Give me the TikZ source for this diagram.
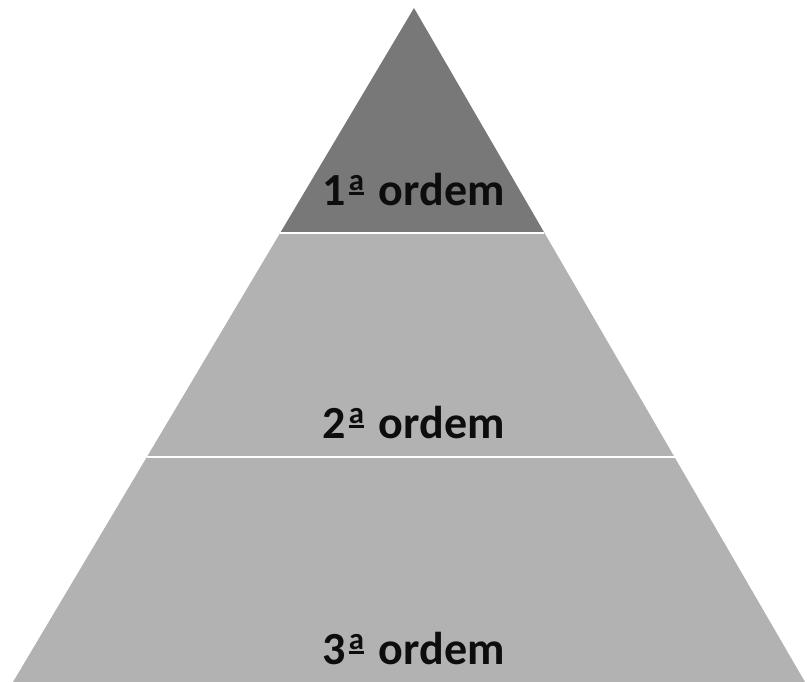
\documentclass[tikz,border=0pt]{standalone}
\usepackage{fontspec}
\setmainfont{Carlito}
\usepackage{tikz}
\usetikzlibrary{calc}

% underlined feminine ordinal, as in the reference font
\newcommand{\ordA}{\kern0.07em\raisebox{7.5pt}{\setbox0\hbox{\fontsize{23}{23}\selectfont\bfseries a}\vbox{\copy0\kern1.4pt\hrule height 2.1pt width \wd0}}\kern0.1em}

\begin{document}
\begin{tikzpicture}[x=0.75pt, y=-0.75pt,
	top/.style={fill=black!53},
	band/.style={fill=black!30},
	gap/.style={draw=white, line width=1.6pt},
	lbl/.style={font=\bfseries\fontsize{34.5}{40}\selectfont, text=black!95, anchor=base}
	]
	\useasboundingbox (0,0) rectangle (807,682);
	\coordinate (apex) at (414,8);
	\coordinate (bl) at (13,682);
	\coordinate (br) at (805,682);
	\coordinate (l1) at ($(apex)!1/3!(bl)$);
	\coordinate (r1) at ($(apex)!1/3!(br)$);
	\coordinate (l2) at ($(apex)!2/3!(bl)$);
	\coordinate (r2) at ($(apex)!2/3!(br)$);
	
	\fill[band] (l1) -- (bl) -- (br) -- (r1) -- cycle;
	\fill[top] (apex) -- (l1) -- (r1) -- cycle;
	\draw[gap] (l1) -- (r1);
	\draw[gap] (l2) -- (r2);
	
	\node[lbl] (o1) at (413.5,205) {1\ordA{} ordem};
	\node[lbl] (o2) at (413.5,438) {2\ordA{} ordem};
	\node[lbl] (o3) at (413.5,664) {3\ordA{} ordem};
\end{tikzpicture}
\end{document}
